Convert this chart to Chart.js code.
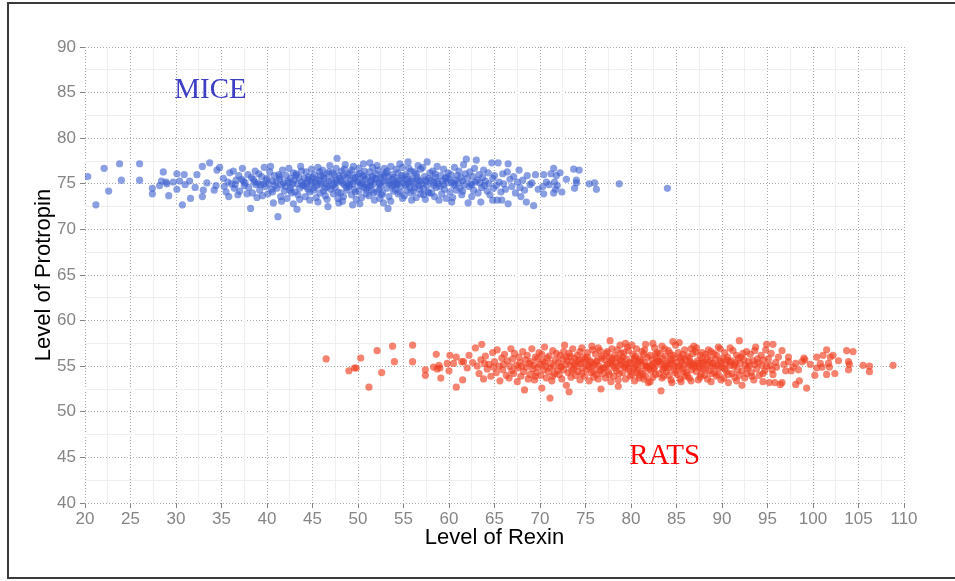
<!DOCTYPE html>
<html>
<head>
<meta charset="utf-8">
<title>Rexin vs Protropin</title>
<script src="https://cdn.jsdelivr.net/npm/chart.js@4/dist/chart.umd.min.js"></script>
<style>
  html, body { margin: 0; padding: 0; background: #fff; }
  #wrap { position: relative; width: 955px; height: 581px; overflow: hidden; }
  #frame {
    position: absolute; left: 7px; top: 2px; width: 960px; height: 577px;
    border: 2px solid #3a3a3a; box-sizing: border-box; pointer-events: none;
  }
  canvas { position: absolute; left: 0; top: 0; }
</style>
</head>
<body>
<div id="wrap">
  <div id="frame"></div>
  <canvas id="grafico" width="955" height="581"></canvas>
</div>
<script>
// [Rexin, Protropin] for each mouse
const mice = [
  [20.3,75.8],[21.2,72.7],[22.1,76.7],[22.6,74.2],[23.8,77.2],[24.0,75.4],[26.0,77.2],[26.0,75.4],[27.4,74.5],[27.4,73.9],
  [28.2,74.8],[28.6,76.3],[28.9,75.2],[29.2,73.7],[29.7,75.2],[30.1,76.1],[30.1,74.4],[30.4,75.3],[30.7,72.7],[30.9,76.0],
  [31.5,75.3],[31.6,73.4],[32.1,74.6],[32.3,76.0],[32.9,76.9],[32.9,73.6],[33.0,74.3],[33.7,77.3],[34.2,74.3],[34.4,74.8],
  [34.5,76.5],[34.8,76.8],[33.4,75.1],[31.0,74.9],[29.0,75.0],[28.4,75.3],
  [35.2,75.6],[35.5,74.1],[35.7,75.2],[35.9,76.2],[35.3,74.7],[35.8,73.6],
  [36.1,75.0],[36.3,76.4],[36.4,74.5],[36.6,75.4],[36.8,73.8],[36.9,75.9],[36.5,74.9],
  [37.0,74.2],[37.2,75.5],[37.3,76.7],[37.5,74.8],[37.6,75.1],[37.8,73.9],[37.9,76.0],[37.4,75.3],
  [38.0,74.6],[38.2,72.3],[38.3,75.7],[38.4,74.0],[38.6,75.2],[38.7,76.4],[38.8,74.9],[38.9,73.5],[38.5,75.5],
  [39.0,75.1],[39.1,76.1],[39.2,74.3],[39.4,75.8],[39.5,73.7],[39.6,75.0],[39.7,76.8],[39.8,74.7],[39.9,75.4],[39.3,74.9],
  [40.0,75.6],[40.1,73.9],[40.2,75.0],[40.3,76.3],[40.5,74.4],[40.6,75.3],[40.7,72.9],[40.8,75.9],[40.9,74.8],[40.4,76.9],[40.6,74.1],
  [41.0,75.2],[41.1,74.5],[41.2,71.4],[41.3,76.0],[41.4,75.5],[41.5,73.6],[41.6,74.9],[41.7,76.5],[41.8,75.1],[41.9,74.2],[41.4,75.8],[41.6,73.1],
  [42.0,74.7],[42.1,75.9],[42.2,73.4],[42.3,75.3],[42.4,76.7],[42.5,74.3],[42.6,75.6],[42.7,74.0],[42.8,75.0],[42.9,72.8],[42.9,76.2],[42.4,75.1],[42.6,74.6],
  [43.0,75.4],[43.1,74.1],[43.2,76.1],[43.3,72.2],[43.3,75.0],[43.4,73.8],[43.5,75.7],[43.6,74.5],[43.7,76.9],[43.8,75.2],[43.9,74.8],[43.2,75.9],[43.6,73.3],[43.8,76.4],
  [44.0,74.9],[44.1,75.6],[44.2,73.6],[44.3,76.3],[44.4,75.1],[44.5,74.4],[44.6,75.8],[44.7,73.2],[44.8,75.3],[44.9,76.6],[44.3,74.7],[44.5,75.5],[44.7,74.1],[44.9,75.0],
  [45.0,75.7],[45.1,74.3],[45.2,76.0],[45.3,75.2],[45.4,73.5],[45.5,74.8],[45.6,76.8],[45.7,75.4],[45.8,74.0],[45.9,75.9],[45.2,74.6],[45.4,75.5],[45.6,73.0],[45.8,76.3],[45.9,74.9],
  [46.0,75.1],[46.1,76.5],[46.2,74.2],[46.3,75.6],[46.4,73.7],[46.5,75.0],[46.6,76.1],[46.7,72.5],[46.7,74.7],[46.8,75.3],[46.9,77.0],[46.2,75.8],[46.4,74.5],[46.6,73.3],[46.8,76.3],
  [47.0,74.4],[47.1,75.5],[47.2,76.2],[47.3,73.9],[47.4,75.0],[47.5,74.6],[47.6,76.7],[47.7,77.8],[47.7,75.2],[47.8,73.4],[47.9,75.9],[47.2,74.8],[47.4,76.0],[47.6,75.4],[47.8,74.1],[47.9,72.9],
  [48.0,75.6],[48.1,74.0],[48.2,76.4],[48.3,75.1],[48.4,73.6],[48.5,74.9],[48.6,77.1],[48.7,75.7],[48.8,74.3],[48.9,76.0],[48.1,75.3],[48.3,73.1],[48.5,76.6],[48.7,74.6],[48.9,75.0],[48.4,75.9],
  [49.0,74.7],[49.1,76.2],[49.2,75.4],[49.3,73.8],[49.4,75.0],[49.5,76.9],[49.6,74.4],[49.7,75.7],[49.8,73.3],[49.9,75.2],[49.1,74.9],[49.3,76.5],[49.5,75.6],[49.7,74.1],[49.9,76.0],[49.4,72.7],
  [50.0,75.3],[50.1,74.2],[50.2,76.1],[50.3,75.0],[50.4,73.5],[50.5,75.8],[50.6,77.2],[50.7,74.6],[50.8,75.5],[50.9,73.9],[50.1,76.7],[50.3,74.8],[50.5,75.1],[50.7,76.4],[50.9,74.4],[50.2,72.8],[50.6,75.9],
  [51.0,74.9],[51.1,75.7],[51.2,73.7],[51.3,76.3],[51.4,75.2],[51.5,74.3],[51.6,76.8],[51.7,75.0],[51.8,73.2],[51.9,75.6],[51.1,74.6],[51.3,77.3],[51.5,75.4],[51.7,74.0],[51.9,76.1],[51.4,74.8],[51.6,75.8],
  [52.0,75.5],[52.1,74.1],[52.2,76.5],[52.3,75.1],[52.4,73.4],[52.5,74.7],[52.6,76.0],[52.7,75.3],[52.8,72.9],[52.9,75.9],[52.1,77.0],[52.3,74.4],[52.5,75.7],[52.7,74.0],[52.9,76.7],[52.4,75.0],[52.6,73.8],
  [53.0,75.2],[53.1,76.2],[53.2,74.5],[53.3,72.3],[53.3,75.8],[53.4,73.6],[53.5,75.0],[53.6,76.9],[53.7,74.8],[53.8,75.5],[53.9,74.2],[53.2,76.4],[53.4,75.3],[53.6,73.1],[53.8,76.0],[53.9,74.9],
  [54.0,75.7],[54.1,74.4],[54.2,76.6],[54.3,75.0],[54.4,73.9],[54.5,75.4],[54.6,77.2],[54.7,74.7],[54.8,75.9],[54.9,73.4],[54.2,75.2],[54.4,76.2],[54.6,74.1],[54.8,75.6],[54.9,76.8],[54.3,74.9],
  [55.0,75.1],[55.1,73.7],[55.2,76.0],[55.3,75.5],[55.4,74.3],[55.5,77.4],[55.6,75.2],[55.7,74.6],[55.8,76.4],[55.9,73.2],[55.2,74.9],[55.4,75.8],[55.6,76.7],[55.8,74.0],[55.9,75.3],[55.5,75.0],
  [56.0,75.6],[56.1,74.2],[56.2,76.3],[56.3,75.0],[56.4,73.5],[56.5,75.7],[56.6,77.0],[56.7,74.8],[56.8,75.3],[56.9,73.9],[56.2,74.6],[56.4,76.1],[56.6,75.4],[56.8,74.4],[56.9,76.6],
  [57.0,75.0],[57.1,76.8],[57.2,74.5],[57.3,75.8],[57.4,73.3],[57.5,75.2],[57.6,77.4],[57.7,74.1],[57.8,75.6],[57.9,76.2],[57.2,73.8],[57.4,75.4],[57.6,74.8],[57.8,74.0],
  [58.0,75.4],[58.1,74.0],[58.2,76.4],[58.3,75.1],[58.4,73.6],[58.5,75.7],[58.6,74.6],[58.7,76.9],[58.8,75.0],[58.9,73.2],[58.3,74.8],[58.5,76.1],[58.7,75.3],
  [59.0,74.7],[59.1,75.9],[59.2,73.9],[59.3,75.3],[59.4,76.6],[59.5,74.4],[59.6,75.6],[59.7,73.4],[59.8,75.1],[59.9,76.2],[59.4,74.9],[59.7,75.7],
  [60.0,75.5],[60.1,74.1],[60.2,76.0],[60.3,75.2],[60.4,73.5],[60.5,74.8],[60.6,76.8],[60.7,75.4],[60.8,74.3],[60.9,75.9],[60.3,73.0],[60.6,75.0],
  [61.0,75.1],[61.1,76.4],[61.2,74.5],[61.3,75.7],[61.4,73.8],[61.5,75.3],[61.6,77.1],[61.7,74.9],[61.8,76.1],[61.9,77.7],[61.5,74.2],
  [62.0,75.6],[62.1,72.9],[62.2,74.7],[62.3,76.3],[62.4,75.0],[62.5,73.6],[62.6,75.8],[62.7,74.3],[62.8,76.7],[62.9,75.2],[62.5,74.9],
  [63.0,77.6],[63.1,75.4],[63.2,74.0],[63.3,76.0],[63.4,75.1],[63.5,73.0],[63.6,74.6],[63.7,75.7],[63.8,76.5],[63.9,74.8],
  [64.0,75.3],[64.2,74.2],[64.3,76.2],[64.4,75.0],[64.5,73.8],[64.7,77.3],[64.8,73.2],[64.8,75.6],[64.9,74.5],
  [65.0,75.9],[65.2,74.8],[65.3,73.2],[65.4,77.3],[65.5,75.2],[65.7,74.1],[65.8,73.2],[65.9,76.1],
  [66.0,75.0],[66.2,74.4],[66.4,76.3],[66.5,72.8],[66.5,77.2],[66.7,75.5],[66.9,74.7],
  [67.1,75.8],[67.3,74.0],[67.5,75.2],[67.7,76.5],[67.8,74.6],[67.9,73.6],
  [68.1,75.4],[68.3,74.3],[68.5,73.0],[68.6,75.9],[68.9,74.9],
  [69.1,75.1],[69.3,72.6],[69.5,76.0],[69.8,74.4],
  [70.4,76.0],[70.3,74.7],[70.4,73.9],[70.7,75.2],[71.5,76.7],[71.2,76.1],[72.2,76.2],[71.8,75.9],[71.6,75.2],[71.0,74.9],
  [71.9,74.8],[71.5,74.0],[72.4,74.1],[71.7,74.4],[72.9,75.5],[73.7,76.6],[74.3,76.5],[74.0,75.4],[74.0,75.1],[73.8,74.5],
  [75.4,75.0],[76.0,75.1],[76.2,74.4],[78.7,75.0],[84.0,74.5]
];

// [Rexin, Protropin] for each rat
const rats = [
  [46.5,55.8],[49.0,54.5],[49.6,54.8],[49.8,54.8],[50.3,55.9],[51.2,52.7],[52.1,56.7],[52.6,54.3],[53.8,57.2],[54.0,55.5],
  [56.0,57.3],[56.0,55.5],[57.4,54.6],[57.4,54.0],[58.3,54.9],[58.6,56.3],[58.9,55.1],[59.0,54.8],[58.7,54.7],[59.1,53.7],
  [59.8,55.3],[60.1,56.2],[60.0,54.5],[60.8,52.7],[60.8,56.0],[60.5,55.3],[61.4,55.5],[61.6,55.5],[61.5,53.5],[62.2,56.2],
  [62.0,54.8],[62.6,55.4],[62.9,57.0],[63.6,57.4],
  [63.1,55.0],[63.3,54.2],[63.5,55.7],[63.8,53.6],[63.9,55.3],
  [64.0,56.1],[64.2,54.7],[64.4,55.2],[64.6,53.9],[64.8,56.5],[64.9,54.9],
  [65.0,55.5],[65.2,54.3],[65.3,56.8],[65.5,55.0],[65.6,53.4],[65.8,55.9],[65.9,54.6],
  [66.0,55.2],[66.1,56.3],[66.3,54.0],[66.4,55.6],[66.6,53.7],[66.7,55.0],[66.8,56.9],[66.9,54.5],
  [67.0,55.8],[67.1,54.2],[67.2,56.4],[67.4,55.1],[67.5,53.3],[67.6,54.8],[67.7,56.0],[67.8,55.4],[67.9,53.9],
  [68.0,55.0],[68.1,56.6],[68.2,54.4],[68.3,52.4],[68.4,55.7],[68.5,54.9],[68.6,56.2],[68.7,53.6],[68.8,55.3],[68.9,54.1],
  [69.0,55.5],[69.1,56.9],[69.2,54.7],[69.3,55.1],[69.4,53.5],[69.5,56.0],[69.6,54.3],[69.7,55.8],[69.8,54.9],[69.9,56.5],[69.5,53.9],
  [70.0,55.2],[70.1,54.0],[70.2,52.6],[70.2,56.3],[70.3,55.6],[70.4,54.6],[70.5,57.1],[70.6,55.0],[70.7,53.7],[70.8,55.9],[70.9,54.4],[70.5,55.4],
  [71.0,56.1],[71.1,51.5],[71.1,54.8],[71.2,55.3],[71.3,53.4],[71.4,56.7],[71.5,55.0],[71.6,54.2],[71.7,55.7],[71.8,56.4],[71.9,54.5],[71.4,53.9],
  [72.0,55.4],[72.1,54.1],[72.2,56.2],[72.3,55.0],[72.4,53.6],[72.5,55.8],[72.6,54.6],[72.7,57.3],[72.8,55.2],[72.9,52.9],[72.9,56.0],[72.3,54.9],[72.6,56.6],
  [73.0,55.6],[73.1,54.3],[73.2,52.2],[73.2,56.4],[73.3,55.1],[73.4,53.8],[73.5,55.5],[73.6,56.9],[73.7,54.7],[73.8,55.9],[73.9,54.0],[73.3,56.1],[73.5,54.5],[73.8,55.2],
  [74.0,55.0],[74.1,56.2],[74.2,54.4],[74.3,55.7],[74.4,53.5],[74.5,55.3],[74.6,57.0],[74.7,54.8],[74.8,56.0],[74.9,53.9],[74.2,55.5],[74.4,56.6],[74.6,54.2],[74.9,55.4],
  [75.0,55.8],[75.1,54.6],[75.2,56.5],[75.3,55.1],[75.4,53.4],[75.5,55.6],[75.6,54.3],[75.7,57.2],[75.8,55.0],[75.9,53.8],[75.2,56.0],[75.4,54.9],[75.6,55.4],[75.8,56.8],[75.9,54.4],
  [76.0,55.2],[76.1,56.3],[76.2,54.1],[76.3,55.6],[76.4,53.6],[76.5,55.0],[76.6,56.7],[76.7,52.5],[76.7,54.7],[76.8,55.9],[76.9,54.2],[76.2,55.5],[76.4,57.0],[76.6,54.5],[76.8,56.1],
  [77.0,54.8],[77.1,55.7],[77.2,53.7],[77.3,56.4],[77.4,55.2],[77.5,54.4],[77.6,56.0],[77.7,57.8],[77.7,55.3],[77.8,53.3],[77.9,55.8],[77.2,54.9],[77.4,56.6],[77.6,54.1],[77.8,55.5],[77.9,56.9],
  [78.0,55.1],[78.1,53.9],[78.2,56.2],[78.3,55.4],[78.4,54.5],[78.5,56.8],[78.6,52.8],[78.6,55.0],[78.7,54.2],[78.8,55.7],[78.9,56.4],[78.2,54.8],[78.4,55.9],[78.6,53.5],[78.8,57.3],[78.9,55.2],
  [79.0,55.6],[79.1,54.3],[79.2,56.5],[79.3,55.0],[79.4,53.6],[79.5,55.8],[79.6,57.1],[79.7,54.7],[79.8,55.4],[79.9,53.9],[79.1,56.0],[79.3,54.9],[79.5,55.2],[79.7,56.7],[79.9,54.5],[79.4,57.5],
  [80.0,55.3],[80.1,54.1],[80.2,56.3],[80.3,55.7],[80.4,53.4],[80.5,55.0],[80.6,56.9],[80.7,54.6],[80.8,55.5],[80.9,54.0],[80.1,57.3],[80.3,54.8],[80.5,56.1],[80.7,55.2],[80.9,53.7],[80.4,55.9],[80.6,54.3],
  [81.0,55.8],[81.1,54.4],[81.2,56.6],[81.3,55.1],[81.4,53.6],[81.5,55.4],[81.6,57.4],[81.7,54.9],[81.8,56.0],[81.9,53.2],[81.1,55.6],[81.3,54.2],[81.5,56.8],[81.7,55.0],[81.9,54.7],[81.4,56.3],[81.6,53.9],
  [82.0,55.0],[82.1,56.2],[82.2,54.5],[82.3,55.7],[82.4,53.8],[82.5,55.3],[82.6,57.0],[82.7,54.1],[82.8,55.9],[82.9,56.5],[82.1,53.3],[82.3,55.1],[82.5,54.7],[82.7,56.3],[82.9,55.5],[82.4,57.5],[82.6,54.9],
  [83.0,55.6],[83.1,54.2],[83.2,56.4],[83.3,52.3],[83.3,55.2],[83.4,53.7],[83.5,55.8],[83.6,54.8],[83.7,56.9],[83.8,55.0],[83.9,54.4],[83.2,55.5],[83.4,57.2],[83.6,53.9],[83.8,56.1],[83.9,55.3],[83.5,54.6],
  [84.0,55.1],[84.1,56.7],[84.2,54.0],[84.3,55.6],[84.4,53.5],[84.5,55.3],[84.6,56.2],[84.7,54.6],[84.8,55.9],[84.9,57.3],[84.1,54.8],[84.3,56.4],[84.5,53.2],[84.7,55.0],[84.9,54.3],[84.4,55.7],[84.6,57.7],
  [85.0,55.4],[85.1,54.1],[85.2,56.5],[85.3,57.6],[85.3,55.0],[85.4,53.6],[85.5,55.8],[85.6,54.7],[85.7,56.3],[85.8,55.2],[85.9,53.9],[85.2,54.9],[85.4,56.0],[85.6,55.5],[85.8,54.4],[85.9,56.8],[85.5,53.3],
  [86.0,55.7],[86.1,54.3],[86.2,56.1],[86.3,55.0],[86.4,53.7],[86.5,55.5],[86.6,56.9],[86.7,54.6],[86.8,55.3],[86.9,57.2],[86.2,54.0],[86.4,55.9],[86.6,53.4],[86.8,56.4],[86.9,54.9],[86.5,55.2],
  [87.0,55.1],[87.1,56.6],[87.2,54.4],[87.3,55.6],[87.4,53.5],[87.5,55.0],[87.6,56.2],[87.7,54.1],[87.8,55.8],[87.9,54.7],[87.2,57.0],[87.4,55.3],[87.6,53.8],[87.8,56.5],[87.9,55.4],[87.5,54.8],
  [88.0,55.5],[88.1,54.0],[88.2,56.3],[88.3,55.2],[88.4,53.6],[88.5,56.8],[88.6,54.5],[88.7,55.7],[88.8,53.3],[88.9,55.0],[88.2,54.7],[88.4,56.0],[88.6,55.4],[88.8,56.6],[88.9,54.2],
  [89.0,55.3],[89.1,56.4],[89.2,54.3],[89.3,55.8],[89.4,53.9],[89.5,55.1],[89.6,57.1],[89.7,54.8],[89.8,55.6],[89.9,53.5],[89.2,55.0],[89.4,56.2],[89.6,54.1],[89.8,56.9],[89.9,55.4],
  [90.0,54.9],[90.1,55.9],[90.2,53.7],[90.3,56.5],[90.4,55.2],[90.5,54.4],[90.6,56.0],[90.7,53.2],[90.8,55.5],[90.9,57.0],[90.3,54.7],[90.5,55.7],[90.7,54.1],[90.9,55.1],
  [91.0,55.6],[91.1,54.2],[91.2,56.7],[91.3,55.0],[91.4,53.8],[91.5,55.4],[91.6,56.2],[91.7,54.6],[91.8,55.9],[91.9,57.8],[91.9,54.0],[91.4,55.2],[91.6,53.4],
  [92.0,55.3],[92.1,56.0],[92.2,52.9],[92.2,54.5],[92.4,55.7],[92.5,53.7],[92.6,55.1],[92.7,56.6],[92.8,54.8],[92.9,55.5],[92.3,56.4],[92.7,54.2],
  [93.0,55.0],[93.1,56.3],[93.2,54.3],[93.4,55.6],[93.5,53.5],[93.6,55.2],[93.7,57.1],[93.8,54.7],[93.9,55.8],[93.3,53.9],[93.6,56.7],
  [94.0,55.4],[94.1,54.0],[94.3,56.2],[94.4,55.1],[94.5,53.3],[94.6,55.7],[94.7,54.5],[94.8,56.8],[94.9,55.0],[94.5,54.2],
  [94.9,57.4],[95.6,57.4],[95.6,54.1],[95.8,53.2],[95.2,53.2],[95.1,55.8],[95.3,55.1],[95.5,54.6],[95.9,55.4],[96.2,56.0],
  [96.0,54.9],[96.8,55.2],[97.3,55.5],[97.8,54.9],[95.4,56.4],
  [96.6,56.7],[96.6,53.2],[96.4,53.0],[97.3,56.0],[97.0,54.5],[97.6,54.5],[98.1,55.3],[98.1,53.0],[98.5,53.4],[98.4,54.6],
  [98.8,55.5],[99.0,55.9],[99.1,55.7],[99.3,52.6],[99.7,55.2],[100.4,54.8],[100.2,54.0],[100.8,55.3],[100.4,56.0],[101.0,54.9],
  [101.5,54.1],[102.4,54.2],[101.8,54.9],[101.7,55.3],[101.1,56.2],[101.9,56.0],[101.5,56.8],[102.2,56.2],[102.8,55.6],[103.9,54.6],
  [104.0,55.2],[103.9,55.5],[103.7,56.7],[104.4,56.6],[105.5,55.1],[106.2,54.4],[106.2,55.0],[108.8,55.1]
];

// axis ranges and tick spacing
const xRange = [20, 110];
const yRange = [40, 90];
const majorStep = 5;
const minorStep = 2.5;

// group labels placed inside the plot
const labelText = ['MICE', 'RATS'];
const labelPos = [[33.8, 85.2], [83.7, 45.1]];
const labelColor = ['#3f3fc4', '#ff0000'];

const tickGray = '#858585';
const sans = "'Liberation Sans', Arial, Helvetica, sans-serif";

const toPoints = arr => arr.map(p => ({ x: p[0], y: p[1] }));

// draws the two group names at data coordinates
const groupLabels = {
  id: 'groupLabels',
  afterDatasetsDraw(chart) {
    const { ctx, scales } = chart;
    ctx.save();
    ctx.font = "29px 'Liberation Serif', 'Times New Roman', serif";
    ctx.textAlign = 'center';
    ctx.textBaseline = 'middle';
    labelText.forEach((txt, i) => {
      ctx.fillStyle = labelColor[i];
      ctx.fillText(txt, scales.x.getPixelForValue(labelPos[i][0]), scales.y.getPixelForValue(labelPos[i][1]));
    });
    ctx.restore();
  }
};

const isMajor = v => Math.abs(v / majorStep - Math.round(v / majorStep)) < 1e-6;

const minorGrid = {
  color: ctx => (ctx.tick && isMajor(ctx.tick.value)) ? 'rgba(0,0,0,0)' : '#efefef',
  lineWidth: 1,
  drawTicks: false
};

new Chart(document.getElementById('grafico').getContext('2d'), {
  type: 'scatter',
  data: {
    datasets: [
      {
        label: 'Mice',
        data: toPoints(mice),
        backgroundColor: 'rgba(60, 95, 206, 0.6)',
        borderWidth: 0,
        pointRadius: 3.6,
        pointHoverRadius: 3.6
      },
      {
        label: 'Rats',
        data: toPoints(rats),
        backgroundColor: 'rgba(240, 64, 34, 0.65)',
        borderWidth: 0,
        pointRadius: 3.6,
        pointHoverRadius: 3.6
      }
    ]
  },
  options: {
    responsive: false,
    animation: false,
    events: [],
    layout: { padding: { left: 0, right: 51, top: 47, bottom: 0 } },
    plugins: {
      legend: { display: false },
      tooltip: { enabled: false }
    },
    scales: {
      x: {
        type: 'linear',
        position: 'bottom',
        min: xRange[0],
        max: xRange[1],
        afterFit: s => { s.height = 78; },
        ticks: {
          stepSize: majorStep,
          color: tickGray,
          padding: 1,
          maxRotation: 0,
          autoSkip: false,
          font: { family: sans, size: 17 }
        },
        grid: {
          color: '#ababab',
          lineWidth: 1,
          tickLength: 5,
          tickColor: tickGray
        },
        border: { display: false, dash: [1, 2] },
        title: {
          display: true,
          text: 'Level of Rexin',
          color: '#000',
          font: { family: sans, size: 22 },
          padding: { top: 0, bottom: 30 }
        }
      },
      y: {
        type: 'linear',
        position: 'left',
        min: yRange[0],
        max: yRange[1],
        afterFit: s => { s.width = 85; },
        ticks: {
          stepSize: majorStep,
          color: tickGray,
          padding: 4,
          font: { family: sans, size: 17 }
        },
        grid: {
          color: '#ababab',
          lineWidth: 1,
          tickLength: 5,
          tickColor: tickGray
        },
        border: { display: false, dash: [1, 2] },
        title: {
          display: true,
          text: 'Level of Protropin',
          color: '#000',
          font: { family: sans, size: 22 },
          padding: { top: 31, bottom: 0 }
        }
      },
      xMinor: {
        type: 'linear',
        position: 'bottom',
        min: xRange[0],
        max: xRange[1],
        afterFit: s => { s.height = 0; },
        ticks: { display: false, stepSize: minorStep },
        grid: minorGrid,
        border: { display: false }
      },
      yMinor: {
        type: 'linear',
        position: 'left',
        min: yRange[0],
        max: yRange[1],
        afterFit: s => { s.width = 0; },
        ticks: { display: false, stepSize: minorStep },
        grid: minorGrid,
        border: { display: false }
      }
    }
  },
  plugins: [groupLabels]
});
</script>
</body>
</html>
